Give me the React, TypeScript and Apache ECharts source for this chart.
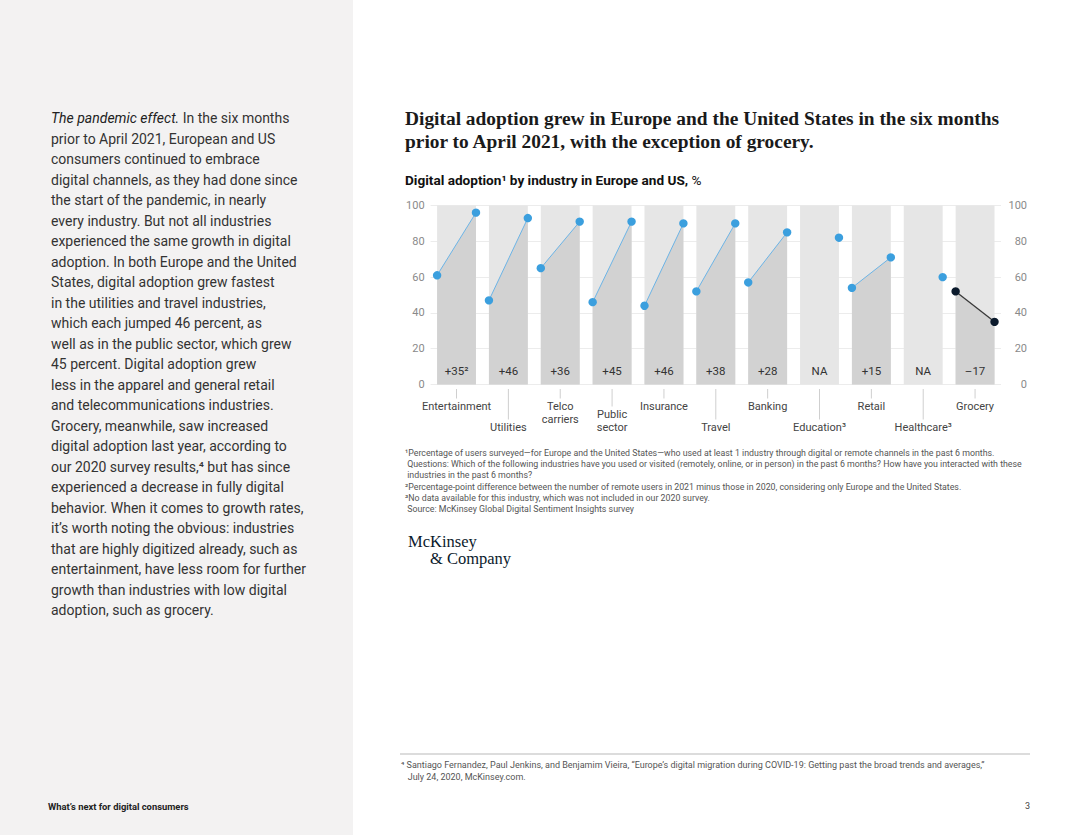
import React, { useEffect, useRef } from 'react';
import * as echarts from 'echarts';

// ---- data ----
const categories = ['Entertainment', 'Utilities', 'Telco\ncarriers', 'Public\nsector', 'Insurance', 'Travel', 'Banking', 'Education³', 'Retail', 'Healthcare³', 'Grocery'];
const labelRow = [0, 1, 0, 1, 0, 1, 0, 1, 0, 1, 0]; // 0 = upper row, 1 = lower row
const adoption2020: (number | null)[] = [61, 47, 65, 46, 44, 52, 57, null, 54, null, 52];
const adoption2021 = [96, 93, 91, 91, 90, 90, 85, 82, 71, 60, 35];
const changeLabels = ['+35²', '+46', '+36', '+45', '+46', '+38', '+28', 'NA', '+15', 'NA', '–17'];
const declining = [false, false, false, false, false, false, false, false, false, false, true];
const yTicks = [0, 20, 40, 60, 80, 100];

const bodyLines = [
  '{i|The pandemic effect.} In the six months',
  'prior to April 2021, European and US',
  'consumers continued to embrace',
  'digital channels, as they had done since',
  'the start of the pandemic, in nearly',
  'every industry. But not all industries',
  'experienced the same growth in digital',
  'adoption. In both Europe and the United',
  'States, digital adoption grew fastest',
  'in the utilities and travel industries,',
  'which each jumped 46 percent, as',
  'well as in the public sector, which grew',
  '45 percent. Digital adoption grew',
  'less in the apparel and general retail',
  'and telecommunications industries.',
  'Grocery, meanwhile, saw increased',
  'digital adoption last year, according to',
  'our 2020 survey results,⁴ but has since',
  'experienced a decrease in fully digital',
  'behavior. When it comes to growth rates,',
  'it’s worth noting the obvious: industries',
  'that are highly digitized already, such as',
  'entertainment, have less room for further',
  'growth than industries with low digital',
  'adoption, such as grocery.',
];

const titleLines = [
  'Digital adoption grew in Europe and the United States in the six months',
  'prior to April 2021, with the exception of grocery.',
];

const footnotes = [
  '¹Percentage of users surveyed—for Europe and the United States—who used at least 1 industry through digital or remote channels in the past 6 months.',
  ' Questions: Which of the following industries have you used or visited (remotely, online, or in person) in the past 6 months? How have you interacted with these',
  ' industries in the past 6 months?',
  '²Percentage-point difference between the number of remote users in 2021 minus those in 2020, considering only Europe and the United States.',
  '³No data available for this industry, which was not included in our 2020 survey.',
  ' Source: McKinsey Global Digital Sentiment Insights survey',
];

const pageFootnote = [
  '⁴ Santiago Fernandez, Paul Jenkins, and Benjamim Vieira, “Europe’s digital migration during COVID-19: Getting past the broad trends and averages,”',
  '   July 24, 2020, McKinsey.com.',
];

const SANS = 'Roboto, "Liberation Sans", sans-serif';
const SERIF = '"Liberation Serif", "DejaVu Serif", serif';

export default function App() {
  const ref = useRef<HTMLDivElement>(null);

  useEffect(() => {
    document.body.style.margin = '0';
    const chart = echarts.init(ref.current!, null, { renderer: 'svg' });

    const graphics: any[] = [];
    graphics.push({ type: 'rect', z: -10, shape: { x: 0, y: 0, width: 353, height: 835 }, style: { fill: '#f3f2f2' } });
    bodyLines.forEach((t, i) => {
      graphics.push({
        type: 'text', x: 51, y: 118 + i * 20.5,
        style: {
          text: t, fill: '#333333', fontSize: 14, fontFamily: SANS, verticalAlign: 'middle', align: 'left',
          rich: { i: { fontStyle: 'italic', fontSize: 14, fontFamily: SANS, fill: '#222222' } },
        },
      });
    });
    titleLines.forEach((t, i) => {
      graphics.push({
        type: 'text', x: 405, y: 118 + i * 23,
        style: { text: t, fill: '#1a1a1a', fontSize: 19.4, fontWeight: 'bold', fontFamily: SERIF, verticalAlign: 'middle' },
      });
    });
    graphics.push({
      type: 'text', x: 405, y: 180,
      style: {
        text: '{b|Digital adoption¹ by industry in Europe and US,} {r|%}', verticalAlign: 'middle',
        rich: {
          b: { fontSize: 13.6, fontWeight: 'bold', fontFamily: SANS, fill: '#111111' },
          r: { fontSize: 13.6, fontFamily: SANS, fill: '#111111' },
        },
      },
    });
    footnotes.forEach((t, i) => {
      graphics.push({
        type: 'text', x: 405, y: 453 + i * 11.2,
        style: { text: t, fill: '#555555', fontSize: 8.8, fontFamily: SANS, verticalAlign: 'middle' },
      });
    });
    graphics.push({ type: 'text', x: 408, y: 541, style: { text: 'McKinsey', fill: '#0b1a2c', fontSize: 16.5, fontFamily: SERIF, verticalAlign: 'middle' } });
    graphics.push({ type: 'text', x: 430, y: 558, style: { text: '& Company', fill: '#0b1a2c', fontSize: 16.5, fontFamily: SERIF, verticalAlign: 'middle' } });
    graphics.push({ type: 'line', shape: { x1: 400, y1: 754, x2: 1030, y2: 754 }, style: { stroke: '#dcdcdc', lineWidth: 2 } });
    pageFootnote.forEach((t, i) => {
      graphics.push({
        type: 'text', x: 401, y: 765 + i * 12,
        style: { text: t, fill: '#555555', fontSize: 9, fontFamily: SANS, verticalAlign: 'middle' },
      });
    });
    graphics.push({ type: 'text', x: 48, y: 806, style: { text: 'What’s next for digital consumers', fill: '#222222', fontSize: 9.4, fontWeight: 'bold', fontFamily: SANS, verticalAlign: 'middle' } });
    graphics.push({ type: 'text', x: 1030, y: 806, style: { text: '3', fill: '#444444', fontSize: 9, fontFamily: SANS, verticalAlign: 'middle', align: 'right' } });

    const yAxisCommon = {
      type: 'value', min: 0, max: 100, interval: 20,
      axisLine: { show: false }, axisTick: { show: false },
    };

    chart.setOption({
      animation: false,
      grid: { left: 430.6, right: 79, top: 205.5, bottom: 450.5 },
      xAxis: {
        type: 'category', data: categories,
        axisLine: { show: false }, axisTick: { show: false }, axisLabel: { show: false },
      },
      yAxis: [
        {
          ...yAxisCommon, position: 'left',
          axisLabel: { color: '#8a8a8a', fontSize: 11, fontFamily: SANS, margin: 6, formatter: (v: number) => String(v) },
          splitLine: { show: true, lineStyle: { color: '#ececec', width: 1 } },
        },
        {
          ...yAxisCommon, position: 'right',
          axisLabel: { color: '#8a8a8a', fontSize: 11, fontFamily: SANS, margin: 26, align: 'right' },
          splitLine: { show: false },
        },
      ],
      graphic: graphics,
      series: [
        {
          type: 'bar', name: 'Scale', data: categories.map(() => yTicks[yTicks.length - 1]),
          barWidth: '75%', itemStyle: { color: '#e6e6e6' }, silent: true, z: 1,
        },
        {
          type: 'custom', name: 'Adoption', clip: false, z: 3,
          data: categories.map((_, i) => [i, adoption2021[i]]),
          encode: { x: 0, y: 1 },
          renderItem: (params: any, api: any) => {
            const i = params.dataIndex;
            const base = api.coord([i, 0]);
            const w = api.size([1, 0])[0] * 0.75;
            const xl = base[0] - w / 2;
            const xr = base[0] + w / 2;
            const y0 = base[1];
            const v0 = adoption2020[i];
            const v1 = adoption2021[i];
            const y1 = api.coord([i, v1])[1];
            const dark = declining[i];
            const dotColor = dark ? '#0b1a2c' : '#3b9fde';
            const lineColor = dark ? '#3a3a3a' : '#6cb4e6';
            const children: any[] = [];
            if (v0 !== null) {
              const yv0 = api.coord([i, v0])[1];
              children.push({ type: 'polygon', shape: { points: [[xl, y0], [xl, yv0], [xr, y1], [xr, y0]] }, style: { fill: '#d2d2d2' } });
              children.push({ type: 'line', shape: { x1: xl, y1: yv0, x2: xr, y2: y1 }, style: { stroke: lineColor, lineWidth: dark ? 1.3 : 1 } });
              children.push({ type: 'circle', shape: { cx: xl, cy: yv0, r: 4.2 }, style: { fill: dotColor } });
            }
            children.push({ type: 'circle', shape: { cx: xr, cy: y1, r: 4.2 }, style: { fill: dotColor } });
            const ly = api.coord([i, 7.5])[1];
            children.push({
              type: 'text', x: base[0], y: ly,
              style: { text: changeLabels[i], fill: '#333333', fontSize: 11.5, fontFamily: SANS, align: 'center', verticalAlign: 'middle' },
            });
            const nLines = categories[i].split('\n').length;
            const lh = 13;
            let tickEnd: number;
            let textY: number;
            if (labelRow[i] === 0) {
              textY = y0 + 15.5;
              tickEnd = y0 + 14;
            } else {
              textY = y0 + 49.5 - nLines * lh;
              tickEnd = textY - 1.5;
            }
            children.push({ type: 'line', shape: { x1: base[0], y1: y0 + 4.5, x2: base[0], y2: tickEnd }, style: { stroke: '#cfcfcf', lineWidth: 1 } });
            children.push({
              type: 'text', x: base[0], y: textY,
              style: { text: categories[i], fill: '#444444', fontSize: 11, lineHeight: lh, fontFamily: SANS, align: 'center', verticalAlign: 'top' },
            });
            return { type: 'group', children };
          },
        },
      ],
    });

    return () => chart.dispose();
  }, []);

  return <div ref={ref} style={{ position: 'fixed', left: 0, top: 0, width: 1080, height: 835, background: '#ffffff' }} />;
}
